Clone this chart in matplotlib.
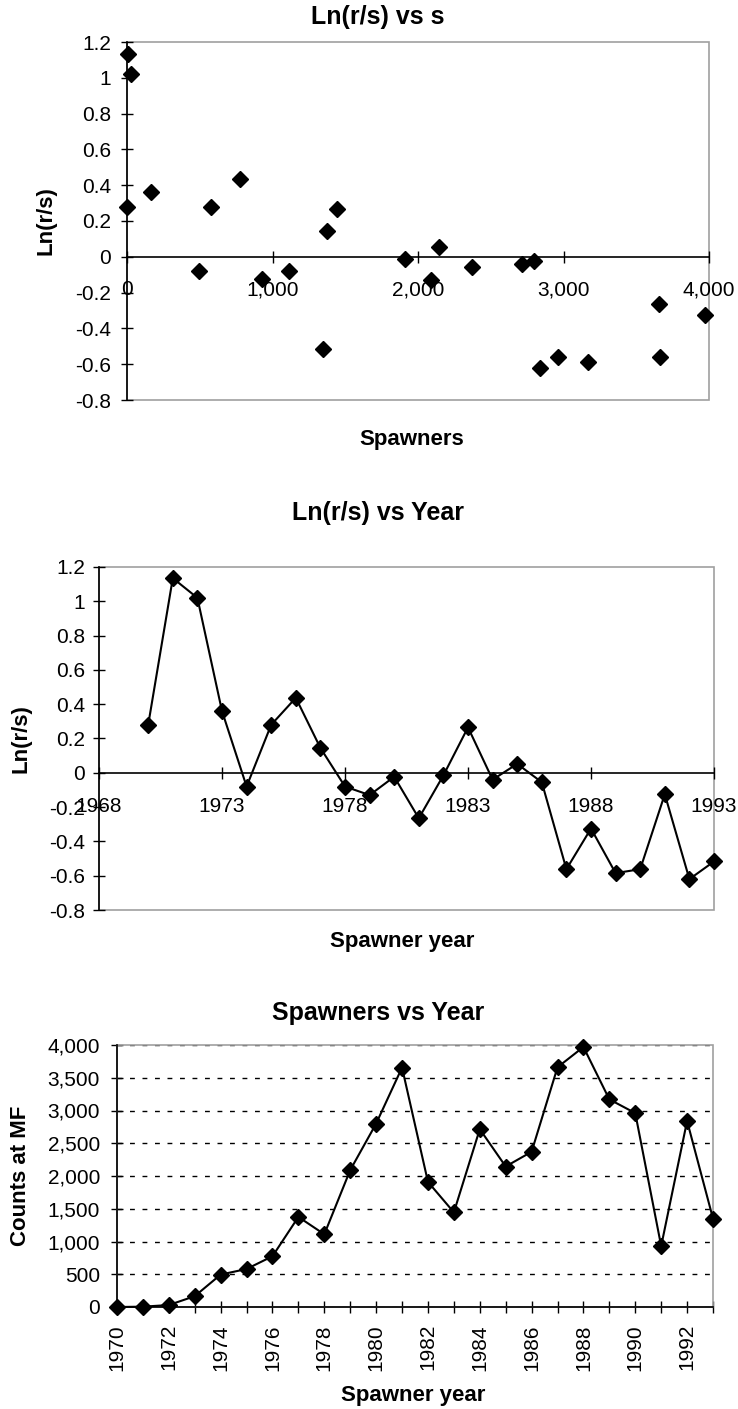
import matplotlib
matplotlib.use("Agg")
import matplotlib.pyplot as plt
from matplotlib.ticker import MultipleLocator, FixedLocator, FuncFormatter
from matplotlib.patches import Rectangle

# ---------------- data ----------------
years = [1970, 1971, 1972, 1973, 1974, 1975, 1976, 1977, 1978, 1979, 1980, 1981,
         1982, 1983, 1984, 1985, 1986, 1987, 1988, 1989, 1990, 1991, 1992, 1993]
spawners = [0, 5, 30, 165, 495, 580, 775, 1375, 1110, 2090, 2800, 3655,
            1910, 1445, 2715, 2145, 2370, 3660, 3970, 3170, 2960, 930, 2840, 1350]
ln_rs = [0.28, 1.135, 1.02, 0.36, -0.08, 0.28, 0.437, 0.145, -0.08, -0.13, -0.023, -0.265,
         -0.015, 0.265, -0.04, 0.052, -0.055, -0.562, -0.325, -0.585, -0.562, -0.125, -0.62, -0.517]

titles = ["Ln(r/s) vs s", "Ln(r/s) vs Year", "Spawners vs Year"]
xlabels = ["Spawners", "Spawner year", "Spawner year"]
ylabels = ["Ln(r/s)", "Ln(r/s)", "Counts at MF"]
year_ticks2 = [1968, 1973, 1978, 1983, 1988, 1993]

# ---------------- style ----------------
FONT = "Liberation Sans"
plt.rcParams['font.family'] = [FONT, 'DejaVu Sans']

W, H = 738, 1409
fig = plt.figure(figsize=(W / 100, H / 100), dpi=100)

def rect(l, r, t, b):
    return [l / W, 1 - b / H, (r - l) / W, (b - t) / H]

GRAY = '#a0a0a0'
TICK_FS = 15
TITLE_FS = 18
LAB_FS = 16
MS = 8

def frame(ax):
    for s in ax.spines.values():
        s.set_visible(False)
    ax.add_patch(Rectangle((0, 0), 1, 1, transform=ax.transAxes, fill=False,
                           ec=GRAY, lw=1.2, zorder=1, clip_on=False))
    ax.spines['left'].set_visible(True)
    ax.spines['left'].set_color('black')
    ax.spines['left'].set_linewidth(1.2)
    ax.spines['bottom'].set_visible(True)
    ax.spines['bottom'].set_color('black')
    ax.spines['bottom'].set_linewidth(1.2)

def yfmt(v, p):
    if abs(v) < 1e-9:
        return "0"
    s = f"{v:.1f}"
    if s.endswith(".0"):
        s = s[:-2]
    return s

# ---------------- panel 1 ----------------
ax1 = fig.add_axes(rect(127, 709, 42, 400))
frame(ax1)
ax1.spines['bottom'].set_position(('data', 0))
ax1.plot(spawners, ln_rs, linestyle='none', marker='D', color='black', ms=MS, zorder=5, clip_on=False)
ax1.set_xlim(0, 4000)
ax1.set_ylim(-0.8, 1.2)
ax1.xaxis.set_major_locator(MultipleLocator(1000))
ax1.yaxis.set_major_locator(MultipleLocator(0.2))
ax1.xaxis.set_major_formatter(FuncFormatter(lambda v, p: f"{int(round(v)):,}"))
ax1.yaxis.set_major_formatter(FuncFormatter(yfmt))
ax1.tick_params(axis='x', direction='inout', length=8.5, width=1, pad=12.5, labelsize=TICK_FS)
ax1.tick_params(axis='y', direction='inout', length=8.5, width=1, pad=7, labelsize=TICK_FS)

# ---------------- panel 2 ----------------
ax2 = fig.add_axes(rect(99, 714, 567, 910))
frame(ax2)
ax2.spines['bottom'].set_position(('data', 0))
ax2.plot(years, ln_rs, linestyle='-', lw=1.5, marker='D', color='black', ms=MS, zorder=5, clip_on=False)
ax2.set_xlim(1968, 1993)
ax2.set_ylim(-0.8, 1.2)
ax2.xaxis.set_major_locator(FixedLocator(year_ticks2))
ax2.yaxis.set_major_locator(MultipleLocator(0.2))
ax2.xaxis.set_major_formatter(FuncFormatter(lambda v, p: f"{int(round(v))}"))
ax2.yaxis.set_major_formatter(FuncFormatter(yfmt))
ax2.tick_params(axis='x', direction='inout', length=8.5, width=1, pad=13.5, labelsize=TICK_FS)
ax2.tick_params(axis='y', direction='inout', length=8.5, width=1, pad=6, labelsize=TICK_FS)

# ---------------- panel 3 ----------------
ax3 = fig.add_axes(rect(117, 713, 1045, 1307))
frame(ax3)
ax3.plot(years, spawners, linestyle='-', lw=1.5, marker='D', color='black', ms=MS, zorder=5, clip_on=False)
ax3.set_xlim(1970, 1993)
ax3.set_ylim(0, 4000)
ax3.xaxis.set_major_locator(MultipleLocator(2))
ax3.xaxis.set_minor_locator(MultipleLocator(1))
ax3.yaxis.set_major_locator(MultipleLocator(500))
ax3.xaxis.set_major_formatter(FuncFormatter(lambda v, p: f"{int(round(v))}"))
ax3.yaxis.set_major_formatter(FuncFormatter(lambda v, p: f"{int(round(v)):,}"))
ax3.tick_params(axis='x', which='both', direction='inout', length=8.5, width=1, pad=8,
                labelrotation=90, labelsize=TICK_FS)
ax3.tick_params(axis='y', direction='inout', length=8.5, width=1, pad=8, labelsize=TICK_FS)
ax3.yaxis.grid(True, color='black', lw=1.0, linestyle=(0, (3.5, 5.5)))
ax3.set_axisbelow(True)

# ---------------- labels & titles ----------------
axes = [ax1, ax2, ax3]
title_y = [17, 513, 1013]
ylab_x = [(46 - 127) / 582, (21 - 99) / 615, (21 - 117) / 596]
xlab_pos = [((412 - 127) / 582, -(439 - 400) / 358),
            ((402 - 99) / 615, -(941 - 910) / 343),
            ((413 - 117) / 596, -(1395 - 1307) / 262)]
for i, ax in enumerate(axes):
    fig.text(378 / W, 1 - title_y[i] / H, titles[i], ha='center', va='center',
             fontsize=TITLE_FS, fontweight='bold')
    ax.set_ylabel(ylabels[i], fontsize=LAB_FS, fontweight='bold')
    ax.yaxis.set_label_coords(ylab_x[i], 0.5)
    ax.yaxis.label.set_va('center')
    ax.set_xlabel(xlabels[i], fontsize=LAB_FS, fontweight='bold')
    ax.xaxis.set_label_coords(*xlab_pos[i])
    ax.xaxis.label.set_va('center')

fig.savefig("out.png", dpi=100, facecolor='white')
